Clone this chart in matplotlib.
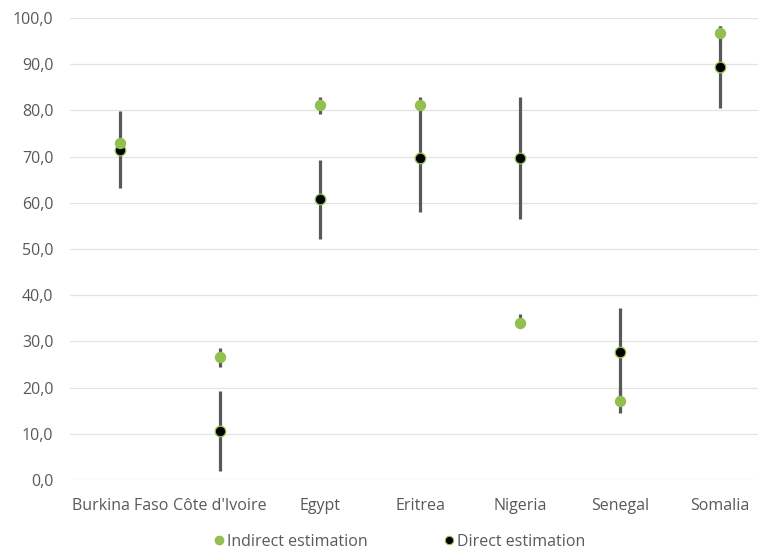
import matplotlib
matplotlib.use("Agg")
import matplotlib.pyplot as plt
from matplotlib.lines import Line2D
import numpy as np

categories = ["Burkina Faso", "Côte d'Ivoire", "Egypt", "Eritrea", "Nigeria", "Senegal", "Somalia"]
indirect = [72.9, 26.7, 81.2, 81.2, 34.0, 17.2, 96.7]
indirect_low = [72.9, 24.5, 79.2, 79.6, 33.0, 14.6, 95.1]
indirect_high = [72.9, 28.6, 82.8, 82.8, 35.9, 19.8, 98.3]
direct = [71.5, 10.7, 60.8, 69.8, 69.8, 27.6, 89.5]
direct_low = [63.2, 1.9, 52.1, 58.1, 56.5, 18.0, 80.6]
direct_high = [79.8, 19.3, 69.3, 81.5, 82.8, 37.2, 98.3]
yticks = [0, 10, 20, 30, 40, 50, 60, 70, 80, 90, 100]

green = "#92C050"
bar_col = "#595959"
txt = "#595959"
plt.rcParams['font.family'] = ['Open Sans', 'DejaVu Sans']

fig = plt.figure(figsize=(7.58, 5.53), dpi=100)
ax = fig.add_axes([70/758, (553-480)/553, 700/758, 462/553])
x = np.arange(len(categories))

d = np.array(direct); dl = np.array(direct_low); dh = np.array(direct_high)
i = np.array(indirect); il = np.array(indirect_low); ih = np.array(indirect_high)

ax.errorbar(x, d, yerr=[d - dl, dh - d], fmt='none', ecolor=bar_col, elinewidth=2.3, capsize=0, zorder=2)
ax.errorbar(x, i, yerr=[i - il, ih - i], fmt='none', ecolor=bar_col, elinewidth=2.3, capsize=0, zorder=2)
ax.plot(x, d, 'o', ms=7.6, mfc='black', mec=green, mew=0.9, ls='none', zorder=3)
ax.plot(x, i, 'o', ms=8.2, mfc=green, mec=green, mew=0, ls='none', zorder=4)

ax.set_xlim(-0.5, len(categories) - 0.5)
ax.set_ylim(0, 100)
ax.set_yticks(yticks)
ax.set_yticklabels([f"{v:.1f}".replace('.', ',') for v in yticks])
ax.set_xticks(x)
ax.set_xticklabels(categories)
ax.grid(axis='y', color='#E3E3E3', lw=0.9, zorder=0)
ax.set_axisbelow(True)
for s in ax.spines.values():
    s.set_visible(False)
ax.tick_params(axis='both', length=0, labelsize=11.5, labelcolor=txt)
ax.tick_params(axis='x', pad=13)
ax.tick_params(axis='y', pad=12)

handles = [Line2D([], [], marker='o', ls='none', ms=6, mfc=green, mec=green),
           Line2D([], [], marker='o', ls='none', ms=6, mfc='black', mec=green, mew=0.8)]
leg = fig.legend(handles, ["Indirect estimation", "Direct estimation"], ncol=2,
                 loc='center', bbox_to_anchor=(398/758, 1 - 542/553), frameon=False,
                 fontsize=11.5, handletextpad=0.0, columnspacing=4.6, handlelength=1.0)
for t in leg.get_texts():
    t.set_color(txt)

fig.savefig("out.png", dpi=100)
